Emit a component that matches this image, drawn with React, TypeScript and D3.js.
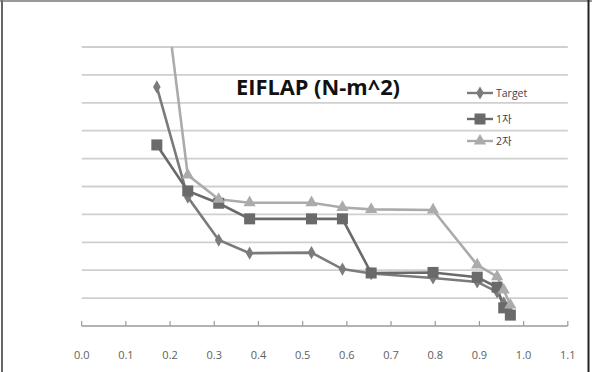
import React from "react";
import * as d3 from "d3";

const xValues = [0.17, 0.24, 0.31, 0.38, 0.52, 0.59, 0.655, 0.795, 0.895, 0.94, 0.955, 0.97];
const targetValues = [8.57, 4.62, 3.08, 2.61, 2.63, 2.04, 1.88, 1.72, 1.58, 1.22, 0.82, 0.5];
const first1Values = [6.49, 4.84, 4.4, 3.84, 3.84, 3.84, 1.9, 1.92, 1.75, 1.39, 0.65, 0.39];
const second2Values = [14.3, 5.41, 4.54, 4.42, 4.42, 4.25, 4.18, 4.16, 2.19, 1.77, 1.29, 0.75];
const xTicks = [0, 0.1, 0.2, 0.3, 0.4, 0.5, 0.6, 0.7, 0.8, 0.9, 1.0, 1.1];
const yGrid = [1, 2, 3, 4, 5, 6, 7, 8, 9, 10];
const seriesNames = ["Target", "1자", "2자"];

const W = 592;
const H = 372;
const left = 81.7;
const right = 567.8;
const top = 47;
const bottom = 326;

export default function App() {
  const x = d3.scaleLinear().domain([0, 1.1]).range([left, right]);
  const y = d3.scaleLinear().domain([0, 10]).range([bottom, top]);
  const line = d3
    .line<number>()
    .x((_, i) => x(xValues[i]))
    .y((d) => y(d));

  const series = [
    { name: seriesNames[0], values: targetValues, color: "#7b7b7b", shape: "diamond" },
    { name: seriesNames[1], values: first1Values, color: "#6a6a6a", shape: "square" },
    { name: seriesNames[2], values: second2Values, color: "#ababab", shape: "triangle" },
  ];

  const marker = (shape: string, cx: number, cy: number, color: string, key: string) => {
    if (shape === "diamond") {
      const p = d3.symbol(d3.symbolDiamond, 50)();
      return <path key={key} d={p || ""} transform={`translate(${cx},${cy})`} fill={color} />;
    }
    if (shape === "square") {
      return <rect key={key} x={cx - 5.5} y={cy - 5.5} width={11} height={11} fill={color} />;
    }
    const p = d3.symbol(d3.symbolTriangle, 65)();
    return <path key={key} d={p || ""} transform={`translate(${cx},${cy})`} fill={color} />;
  };

  const legendY = [93, 119, 141];

  return (
    <svg
      width={W}
      height={H}
      style={{ position: "absolute", left: 0, top: 0, background: "#fff" }}
      fontFamily="'Open Sans', 'Noto Sans CJK KR', sans-serif"
    >
      <defs>
        <clipPath id="plotClip">
          <rect x={left - 10} y={top} width={right - left + 20} height={bottom - top + 10} />
        </clipPath>
      </defs>
      <rect x={0} y={0} width={W} height={H} fill="#fff" />
      {/* outer border */}
      <line x1={2} y1={0} x2={2} y2={H} stroke="#666" strokeWidth={2} />
      <line x1={0} y1={1} x2={W} y2={1} stroke="#777" strokeWidth={1.5} />
      <line x1={588.5} y1={0} x2={588.5} y2={H} stroke="#222" strokeWidth={2} />

      {/* gridlines */}
      {yGrid.map((v) => (
        <line key={v} x1={left} x2={right} y1={y(v)} y2={y(v)} stroke="#cfcfcf" strokeWidth={1.8} />
      ))}
      {/* x axis */}
      <line x1={left} x2={right} y1={bottom} y2={bottom} stroke="#9a9a9a" strokeWidth={1.3} />
      {xTicks.map((t) => (
        <g key={t}>
          <line x1={x(t)} x2={x(t)} y1={bottom - 5} y2={bottom} stroke="#9a9a9a" strokeWidth={1.2} />
          <text x={x(t)} y={359} textAnchor="middle" fontSize={11} fill="#5e5e5e">
            {t.toFixed(1)}
          </text>
        </g>
      ))}

      {/* series */}
      <g clipPath="url(#plotClip)">
        {series.map((s) => (
          <path key={s.name} d={line(s.values) || ""} fill="none" stroke={s.color} strokeWidth={2.6} />
        ))}
        {series.map((s) =>
          s.values.map((v, i) => marker(s.shape, x(xValues[i]), y(v), s.color, `${s.name}-${i}`))
        )}
      </g>

      {/* title */}
      <text
        x={318}
        y={95}
        textAnchor="middle"
        fontSize={22}
        fontWeight="bold"
        fill="#111"
        textLength={164}
        lengthAdjust="spacingAndGlyphs"
      >
        EIFLAP (N-m^2)
      </text>

      {/* legend */}
      {series.map((s, i) => (
        <g key={s.name}>
          <line x1={467} x2={493} y1={legendY[i]} y2={legendY[i]} stroke={s.color} strokeWidth={2.4} />
          {marker(s.shape, 480, legendY[i], s.color, `lg-${i}`)}
          <text x={496} y={legendY[i] + 4} fontSize={10.5} fill="#444">
            {s.name}
          </text>
        </g>
      ))}
    </svg>
  );
}
